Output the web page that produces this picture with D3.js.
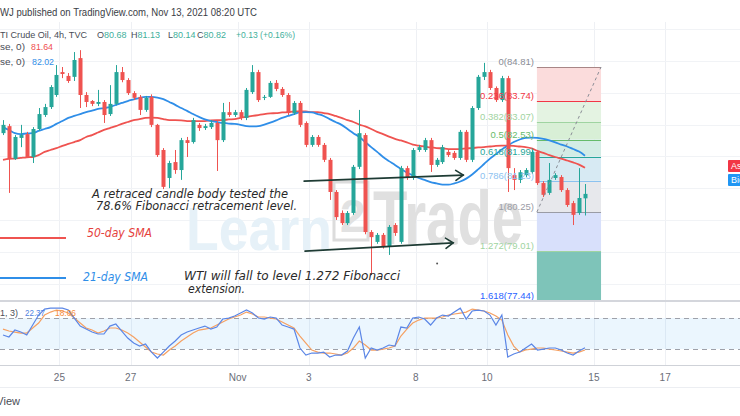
<!DOCTYPE html>
<html><head><meta charset="utf-8">
<script src="https://cdn.jsdelivr.net/npm/d3@7"></script>
<style>html,body{margin:0;padding:0;background:#fff;overflow:hidden}svg{display:block}</style>
</head><body>
<svg id="c" width="740" height="416"></svg>
<script>
// ---------- DATA ----------
const opens  = [82.73,82.95,81.92,82.58,82.70,81.98,82.86,83.30,83.55,83.93,84.65,84.53,84.50,85.09,83.93,83.74,83.65,83.71,83.33,83.65,84.65,84.40,83.99,83.87,83.46,83.87,82.99,82.20,81.32,81.82,81.57,82.51,82.45,82.99,82.89,82.92,83.05,82.51,83.39,83.30,83.39,83.21,84.02,84.65,83.84,83.87,84.31,84.12,83.93,83.36,83.68,83.05,82.36,82.61,82.36,81.89,80.88,80.22,79.90,80.22,81.67,82.67,79.62,79.31,79.53,79.15,79.84,79.31,81.63,81.32,82.20,82.20,82.51,81.73,81.82,82.14,82.11,81.95,82.77,81.89,83.52,84.50,84.65,84.15,83.77,84.46,81.41,81.26,81.41,81.51,82.14,81.16,80.85,81.32,81.35,80.94,80.53,80.22,80.68];
const highs  = [83.14,83.02,82.67,82.99,82.77,82.92,83.52,83.65,84.24,84.87,84.81,84.62,85.28,85.34,84.02,83.77,84.09,83.77,84.24,84.87,84.81,84.46,84.05,83.93,83.90,83.95,83.02,82.26,81.86,82.20,82.58,82.61,83.21,83.05,83.02,83.14,83.10,83.68,83.71,83.46,83.46,84.15,84.87,84.72,83.93,84.37,84.40,84.18,83.99,83.74,83.74,83.10,82.67,82.67,82.42,81.95,80.94,80.30,80.28,81.73,83.46,82.73,79.68,79.59,79.59,79.84,79.90,81.70,81.70,82.26,82.36,82.58,82.58,81.95,82.36,82.20,82.17,82.83,82.83,83.58,84.56,84.94,84.72,84.20,84.53,84.53,81.63,81.57,81.63,82.20,82.20,81.22,81.79,81.47,81.41,81.00,80.60,81.63,81.13];
const lows   = [82.67,80.85,81.89,82.29,81.95,81.79,82.80,83.24,83.49,83.87,84.46,84.31,84.37,83.52,83.55,83.58,83.58,83.05,83.27,83.60,84.33,83.93,83.77,83.30,83.40,82.92,81.98,80.97,81.00,81.45,81.26,81.98,82.40,82.80,82.83,82.86,81.54,82.45,83.24,83.24,83.14,83.14,83.96,83.71,83.77,83.84,84.05,83.87,83.30,83.30,82.92,82.29,82.30,82.30,81.82,80.63,80.00,79.84,79.84,80.16,81.60,79.55,78.27,79.25,79.10,78.90,79.50,79.25,81.26,81.26,82.14,82.14,81.51,81.67,81.76,81.98,81.89,81.89,81.82,81.82,83.46,84.40,84.09,83.71,83.71,80.88,80.94,81.16,81.35,81.45,81.10,80.72,80.79,81.26,80.88,80.41,79.84,80.16,80.14];
const closes = [82.99,81.92,82.61,82.67,81.98,82.86,83.33,83.55,84.18,84.56,84.59,84.37,85.03,83.93,83.71,83.65,83.71,83.30,83.65,84.65,84.40,83.99,83.84,83.46,83.84,82.99,82.04,81.04,81.79,81.57,82.51,82.42,83.14,82.89,82.95,83.05,82.51,83.39,83.30,83.39,83.21,84.09,84.65,83.77,83.87,84.31,84.12,83.93,83.36,83.68,82.99,82.36,82.61,82.36,81.89,80.88,80.09,79.90,80.22,81.67,82.73,79.62,79.46,79.53,79.15,79.78,79.59,81.63,81.32,82.20,82.29,82.51,81.73,81.89,82.29,82.04,81.95,82.77,81.89,83.52,84.50,84.65,84.15,83.77,84.46,81.63,81.26,81.50,81.57,82.14,81.16,80.79,81.26,81.41,80.94,80.47,80.16,80.69,80.82];
const sma50  = [81.89,81.92,81.93,81.95,81.97,81.98,82.04,82.14,82.20,82.26,82.33,82.39,82.45,82.51,82.61,82.67,82.75,82.83,82.89,82.95,83.02,83.08,83.14,83.17,83.21,83.22,83.21,83.17,83.14,83.14,83.13,83.11,83.11,83.11,83.11,83.13,83.14,83.14,83.16,83.17,83.21,83.24,83.27,83.30,83.33,83.35,83.36,83.38,83.39,83.41,83.41,83.41,83.39,83.39,83.36,83.33,83.27,83.21,83.14,83.08,83.00,82.94,82.86,82.77,82.70,82.62,82.55,82.50,82.44,82.37,82.34,82.31,82.28,82.26,82.25,82.23,82.23,82.23,82.25,82.26,82.28,82.29,82.31,82.33,82.34,82.34,82.33,82.31,82.29,82.25,82.17,82.11,82.04,81.98,81.93,81.87,81.81,81.74,81.64];
const sma21  = [82.92,82.83,82.73,82.70,82.72,82.73,82.80,82.86,82.92,83.02,83.11,83.21,83.27,83.33,83.39,83.44,83.49,83.52,83.55,83.62,83.68,83.74,83.79,83.84,83.87,83.87,83.85,83.80,83.71,83.62,83.52,83.43,83.33,83.24,83.16,83.11,83.08,83.05,83.03,83.02,82.99,82.95,82.94,82.95,83.00,83.06,83.13,83.21,83.27,83.33,83.38,83.39,83.38,83.33,83.27,83.17,83.08,82.99,82.86,82.73,82.61,82.45,82.29,82.14,81.98,81.85,81.73,81.60,81.49,81.40,81.32,81.26,81.19,81.15,81.11,81.11,81.15,81.21,81.30,81.43,81.59,81.76,81.93,82.07,82.22,82.34,82.45,82.53,82.58,82.59,82.58,82.55,82.50,82.44,82.37,82.31,82.23,82.15,82.02];
const stochK = [47.0,43.2,56.7,52.8,47.0,66.4,85.7,97.3,99,99,99,95.4,79.9,64.4,58.6,52.8,49.0,49.0,64.4,68.3,54.8,41.2,31.5,25.7,29.6,14.1,2.5,14.1,25.7,35.4,47.0,52.8,56.7,60.6,64.4,58.6,62.5,78.0,79.9,83.8,89.6,95.4,89.6,79.9,78.0,81.9,79.9,66.4,62.5,58.6,21.9,8.3,12.2,12.2,14.1,4.5,8.3,8.3,16.1,41.2,62.5,2.5,21.9,18.0,21.9,27.7,25.7,62.5,60.6,79.9,81.9,78.0,66.4,79.9,85.7,83.8,91.5,99,78.0,93.5,95.4,93.5,85.7,66.4,85.7,4.5,10.3,14.1,21.9,29.6,18.0,19.9,21.9,21.9,18.0,12.2,8.3,16.1,22.37];
const stochD = [58.6,54.8,52.8,50.9,50.9,60.6,70.2,85.7,91.5,95.4,93.5,89.6,79.9,70.2,60.6,56.7,50.9,54.8,60.6,60.6,56.7,50.9,43.2,33.5,23.8,14.1,10.3,8.3,18.0,25.7,35.4,43.2,50.9,56.7,58.6,60.6,66.4,72.2,78.0,81.9,85.7,91.5,87.7,81.9,81.9,79.9,78.0,72.2,66.4,60.6,45.1,31.5,18.0,14.1,12.2,12.2,10.3,8.3,12.2,21.9,35.4,27.7,18.0,18.0,19.9,21.9,25.7,45.1,58.6,70.2,76.0,79.9,79.9,79.9,81.9,85.7,87.7,89.6,91.5,97.3,95.4,93.5,89.6,83.8,76.0,47.0,25.7,14.1,18.0,19.9,21.9,21.9,19.9,18.0,16.1,14.1,12.2,14.1,18.06];
const tickLabels = ["25","27","Nov","3","8","10","15","17"];
const tickTradingDays = [0,2,5,7,10,12,15,17];   // trading days after Oct 25
const candlesPerDay = 6;                          // 4h candles
const firstDayBoundary = 9.5;                     // candle index where Oct 25 starts
const fibRatios = ["0","0.236","0.382","0.5","0.618","0.786","1","1.272","1.618"];
const fibPrices = [84.81,83.74,83.07,82.53,81.99,81.23,80.25,79.01,77.44];
const fibAnchor = [89.9,100.7];                   // candle-index span of the fib drawing
const arrowA = [[50.7,81.22],[77.5,81.41]];
const arrowB = [[50.85,79.02],[75.8,79.28]];
const stochBands = [80,20];
const priceGrid = [78,79,80,81,82,83,84,85,86];

// ---------- STYLES ----------
const UP="#26a69a", DN="#ef5350", RED="#ef5350", BLUE="#2f8ee8";
const fibLine = ["#a88686","#f23645","#9fd4a1","#66bb6a","#26a69a","#8cc2f0","#9a9ca5","#9fd4a1","#2962ff"];
const fibFill = ["#fbdcdc","#e4f3e2","#d8efd6","#d3ece5","#d7eaf3","#e7e8ec","#d8e0fb","#7ec4b9"];

const svg=d3.select("#c");
const x=d3.scaleLinear().domain([0,98]).range([3,585]);
const y=d3.scaleLinear().domain([80.25,84.81]).range([212,67]);
const ys=d3.scaleLinear().domain([20,80]).range([349,318]);
const FONT="'Liberation Sans',Arial,sans-serif";

// grid
const grid=svg.append("g");
const tickIdx=tickTradingDays.map(d=>firstDayBoundary+candlesPerDay*d);
grid.selectAll("line.v").data(tickIdx).join("line")
  .attr("x1",d=>Math.round(x(d))+0.5).attr("x2",d=>Math.round(x(d))+0.5)
  .attr("y1",22).attr("y2",365).attr("stroke","#eef0f4");
grid.selectAll("line.h").data(priceGrid).join("line")
  .attr("x1",0).attr("x2",740).attr("y1",d=>Math.round(y(d))+0.5).attr("y2",d=>Math.round(y(d))+0.5)
  .attr("stroke","#f1f3f6");

// watermark
const wm=svg.append("g");
wm.append("text").attr("x",186).attr("y",250).attr("font-family",FONT).attr("font-weight","bold")
  .attr("font-size",62).attr("fill","#e6f1f8").attr("textLength",146).attr("lengthAdjust","spacingAndGlyphs").text("Learn");
wm.append("rect").attr("x",334).attr("y",182).attr("width",34).attr("height",58).attr("fill","none").attr("stroke","#dcdcdc").attr("stroke-width",3);
wm.append("text").attr("x",340).attr("y",232).attr("font-family",FONT).attr("font-weight","bold")
  .attr("font-size",46).attr("fill","#e2e2e2").text("2");
wm.append("text").attr("x",373).attr("y",244).attr("font-family",FONT).attr("font-weight","bold")
  .attr("font-size",76).attr("fill","#e0e0e0").attr("textLength",150).attr("lengthAdjust","spacingAndGlyphs").text("Trade");

// fib fills
const fx0=x(fibAnchor[0]), fx1=x(fibAnchor[1]);
const fib=svg.append("g");
fib.selectAll("rect").data(d3.range(fibPrices.length-1)).join("rect")
  .attr("x",fx0).attr("width",fx1-fx0)
  .attr("y",i=>y(fibPrices[i])).attr("height",i=>Math.min(y(fibPrices[i+1]),301)-y(fibPrices[i]))
  .attr("fill",i=>fibFill[i]);
fib.selectAll("line").data(d3.range(fibPrices.length)).join("line")
  .attr("x1",fx0).attr("x2",fx1)
  .attr("y1",i=>Math.round(y(fibPrices[i]))+0.5).attr("y2",i=>Math.round(y(fibPrices[i]))+0.5)
  .attr("stroke",i=>fibLine[i]).attr("stroke-width",1);

// SMA lines
const idx=d3.range(closes.length);
const lineP=d3.line().x(i=>x(i)).curve(d3.curveMonotoneX);
svg.append("path").attr("d",lineP.y(i=>y(sma50[i]))(idx)).attr("fill","none").attr("stroke",RED).attr("stroke-width",1.8);
svg.append("path").attr("d",lineP.y(i=>y(sma21[i]))(idx)).attr("fill","none").attr("stroke",BLUE).attr("stroke-width",1.8);

// candles
const cg=svg.append("g");
idx.forEach(i=>{
  const o=opens[i],c=closes[i],col=c>=o?UP:DN;
  const cx=Math.round(x(i));
  cg.append("line").attr("x1",cx+0.5).attr("x2",cx+0.5).attr("y1",y(highs[i])).attr("y2",y(lows[i])).attr("stroke",col).attr("stroke-width",1);
  const top=y(Math.max(o,c)), h=Math.max(1,Math.abs(y(o)-y(c)));
  cg.append("rect").attr("x",cx-1.5).attr("width",4).attr("y",top).attr("height",h).attr("fill",col);
});

// fib trend dashed line
svg.append("line").attr("x1",fx0).attr("y1",y(fibPrices[6])).attr("x2",fx1).attr("y2",y(fibPrices[0]))
  .attr("stroke","#8a8d96").attr("stroke-width",1).attr("stroke-dasharray","3,3");

// fib labels
svg.append("g").selectAll("text").data(d3.range(fibPrices.length)).join("text")
  .attr("x",fx0-3).attr("y",i=>Math.min(y(fibPrices[i])-2,300)).attr("text-anchor","end")
  .attr("font-family",FONT).attr("font-size",9.5).attr("fill",i=>fibLine[i]===fibLine[0]?"#8a8d96":fibLine[i])
  .text(i=>`${fibRatios[i]}(${fibPrices[i].toFixed(2)})`);

// arrows
function arrow(pts){
  const [a,b]=pts, x1=x(a[0]),y1=y(a[1]),x2=x(b[0]),y2=y(b[1]);
  const ang=Math.atan2(y2-y1,x2-x1), L=9, s=0.6;
  const g=svg.append("g").attr("stroke","#1e3b34").attr("stroke-width",1.6).attr("fill","none").attr("stroke-linecap","round");
  g.append("line").attr("x1",x1).attr("y1",y1).attr("x2",x2).attr("y2",y2);
  g.append("path").attr("d",`M${x2-L*Math.cos(ang-s)},${y2-L*Math.sin(ang-s)}L${x2},${y2}L${x2-L*Math.cos(ang+s)},${y2-L*Math.sin(ang+s)}`);
}
arrow(arrowA); arrow(arrowB);
svg.append("circle").attr("cx",x(73.1)).attr("cy",y(78.63)).attr("r",1).attr("fill","#555");

// annotation texts
const IT="'DejaVu Sans',Verdana,sans-serif";
function note(t,x0,yb,w,col,fs){
  svg.append("text").attr("x",x0).attr("y",yb).attr("font-family",IT).attr("font-style","italic")
    .attr("font-size",fs||12).attr("fill",col||"#2a2a2a").attr("textLength",w).attr("lengthAdjust","spacingAndGlyphs").text(t);
}
note("A retraced candle body tested the",92,198,196);
note("78.6% Fibonacci retracement level.",96,210,201);
note("50-day SMA",87,237,65,"#e5413d");
note("21-day SMA",83,281,65,"#2f8ee8");
note("WTI  will fall to level 1.272 Fibonacci",184,280,216);
note("extension.",188,293,57);
svg.append("line").attr("x1",0).attr("x2",66).attr("y1",238).attr("y2",238).attr("stroke",RED).attr("stroke-width",2);
svg.append("line").attr("x1",0).attr("x2",66).attr("y1",278).attr("y2",278).attr("stroke",BLUE).attr("stroke-width",2);

// right tags
svg.append("rect").attr("x",728).attr("y",160).attr("width",14).attr("height",12).attr("rx",1).attr("fill","#f23645");
svg.append("text").attr("x",731).attr("y",169).attr("font-family",FONT).attr("font-size",9).attr("fill","#fff").text("Ask");
svg.append("rect").attr("x",728).attr("y",174).attr("width",14).attr("height",12).attr("rx",1).attr("fill","#2196f3");
svg.append("text").attr("x",731).attr("y",183).attr("font-family",FONT).attr("font-size",9).attr("fill","#fff").text("Bid");

// stoch pane
svg.append("rect").attr("x",0).attr("y",300).attr("width",740).attr("height",2).attr("fill","#d4d6dc");
svg.append("rect").attr("x",0).attr("width",740).attr("y",ys(stochBands[0])).attr("height",ys(stochBands[1])-ys(stochBands[0])).attr("fill","rgba(33,150,243,0.09)");
svg.selectAll("line.band").data(stochBands).join("line").attr("x1",0).attr("x2",740)
  .attr("y1",d=>Math.round(ys(d))+0.5).attr("y2",d=>Math.round(ys(d))+0.5)
  .attr("stroke","#9ea1aa").attr("stroke-dasharray","5,4");
const lineS=d3.line().x(i=>x(i));
svg.append("path").attr("d",lineS.y(i=>ys(stochD[i]))(idx)).attr("fill","none").attr("stroke","#f5a062").attr("stroke-width",1.2);
svg.append("path").attr("d",lineS.y(i=>ys(stochK[i]))(idx)).attr("fill","none").attr("stroke","#5b86e6").attr("stroke-width",1.2);

// time axis
svg.append("line").attr("x1",0).attr("x2",740).attr("y1",365.5).attr("y2",365.5).attr("stroke","#cfd2d8");
svg.append("line").attr("x1",0).attr("x2",740).attr("y1",387.5).attr("y2",387.5).attr("stroke","#eceef2");
svg.selectAll("text.t").data(tickLabels).join("text")
  .attr("x",(d,i)=>x(tickIdx[i])).attr("y",381).attr("text-anchor","middle")
  .attr("font-family",FONT).attr("font-size",10).attr("fill","#6b6e78").text(d=>d);

// header & legends
function tx(t,x0,yb,fs,col,w,fw){
  const e=svg.append("text").attr("x",x0).attr("y",yb).attr("font-family",FONT).attr("font-size",fs).attr("fill",col).text(t);
  if(w) e.attr("textLength",w).attr("lengthAdjust","spacingAndGlyphs");
  if(fw) e.attr("font-weight",fw);
  return e;
}
tx("WJ published on TradingView.com, Nov 13, 2021 08:20 UTC",0,16,10,"#3a3d45",257);
tx("TI Crude Oil, 4h, TVC",0,38,9,"#4a4d56",87);
const G="#3fb09b";
[["O","80.68",97],["H","81.13",131],["L","80.14",168],["C","80.82",197]].forEach(([k,v,px])=>{
  const e=svg.append("text").attr("x",px).attr("y",38).attr("font-family",FONT).attr("font-size",9);
  e.append("tspan").attr("fill","#4a4d56").text(k);
  e.append("tspan").attr("fill",G).text(v);
});
tx("+0.13 (+0.16%)",236,38,9,G,59);
tx("se, 0)",0,50,9,"#4a4d56",25);
tx(sma50[sma50.length-1].toFixed(2),31,50,9,"#ef4f4f",22);
tx("se, 0)",0,65,9,"#4a4d56",25);
tx(sma21[sma21.length-1].toFixed(2),32,65,9,"#2f8ee8",22);
tx("1, 3)",0,316,9,"#4a4d56",18);
tx(stochK[stochK.length-1].toFixed(2),25,316,9,"#4f7fe0",20);
tx(stochD[stochD.length-1].toFixed(2),55,316,9,"#f58a3a",21);
tx("View",20,405,11,"#4a4d56").attr("text-anchor","end");
</script>
</body></html>
